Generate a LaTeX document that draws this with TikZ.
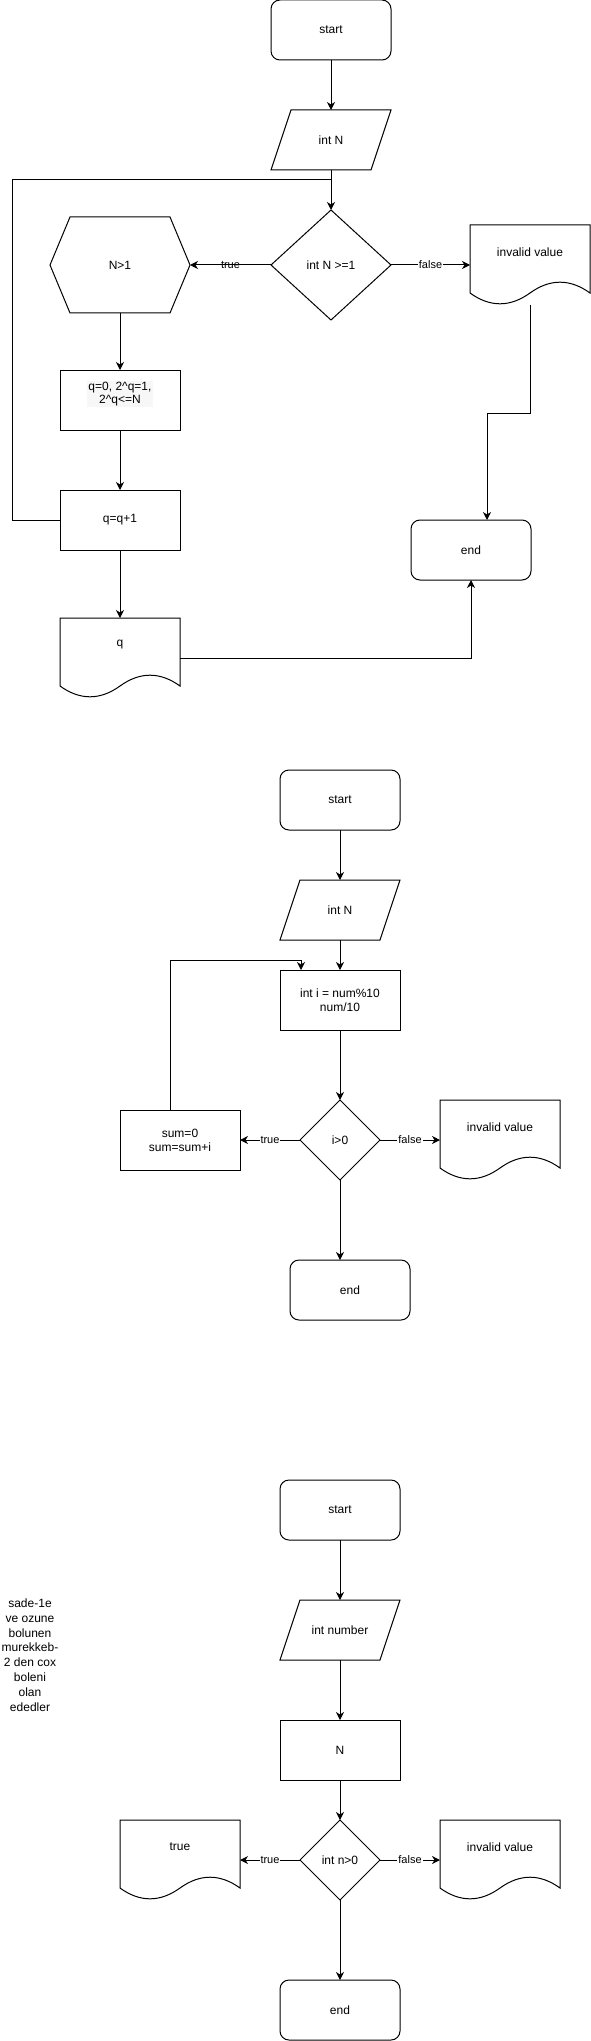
\documentclass[tikz,border=0pt]{standalone}
\usepackage{fontspec}
\setmainfont{Liberation Sans}
\usetikzlibrary{arrows.meta,shapes.geometric,calc}

\newcommand\parashape[1]{\draw ($(#1.north west)+(20,0)$) -- (#1.north east) -- ($(#1.south east)+(-20,0)$) -- (#1.south west) -- cycle;}
\newcommand\docshape[1]{\draw (#1.north west) -- (#1.north east) -- ($(#1.north west)+(120,68)$) .. controls ($(#1.north west)+(100,53.6)$) and ($(#1.north west)+(80,53.6)$) .. ($(#1.north west)+(60,68)$) .. controls ($(#1.north west)+(40,82.4)$) and ($(#1.north west)+(20,82.4)$) .. ($(#1.north west)+(0,68)$) -- cycle;}
\newcommand\hexshape[1]{\draw (#1.west) -- ($(#1.north west)+(20,0)$) -- ($(#1.north east)+(-20,0)$) -- (#1.east) -- ($(#1.south east)+(-20,0)$) -- ($(#1.south west)+(20,0)$) -- cycle;}

\tikzset{
  base/.style={font=\fontsize{12}{14}\selectfont, text=black, align=center, inner sep=0pt, outer sep=0pt},
  term/.style={base, draw, rounded corners=9pt, minimum width=120pt, minimum height=60pt},
  proc/.style={base, draw, minimum width=120pt, minimum height=60pt},
  iobox/.style={base, minimum width=120pt, minimum height=60pt},
  docbox/.style={base, minimum width=120pt, minimum height=80pt},
  dec/.style={base, draw, diamond, minimum width=80pt, minimum height=80pt},
  arr/.style={-{Stealth[length=8pt,width=8pt,inset=2.5pt]}},
  lbl/.style={font=\fontsize{11}{13}\selectfont, text=black, fill=white, inner sep=1pt},
}

\begin{document}
\begin{tikzpicture}[x=1pt,y=-1pt,line width=1pt]
\path[use as bounding box, fill=white] (0,0) rectangle (591,2041);

% ---------------- Diagram 1 ----------------
\node[term] (s1) at (331,30) {start};
\node[iobox] (p1) at (331,140) {int N};
\parashape{p1}
\node[dec, minimum width=120pt, minimum height=110pt] (d1) at (331,265) {int N >=1};
\node[base, minimum width=140pt, minimum height=96pt] (h1) at (120,265) {N>1};
\hexshape{h1}
\node[docbox] (v1) at (530,265) {};
\docshape{v1}
\node[base] (v1t) at ($(v1.north)+(0,27)$) {invalid value};
\node[proc] (a1) at (120,400) {};
\node[base, fill=gray!6, inner sep=1pt, font=\fontsize{12}{13.5}\selectfont] (a1t) at (120,394) {q=0, 2\textasciicircum q=1,\\2\textasciicircum q<=N};
\node[proc] (b1) at (120,520) {q=q+1};
\node[docbox] (q1) at (120,658) {};
\docshape{q1}
\node[base] (q1t) at ($(q1.north)+(0,27)$) {q};
\node[term] (e1) at (471,550) {end};
\coordinate (j1) at (331,180);

\draw[arr] (s1.south) -- (p1.north);
\draw[arr] (p1.south) -- (d1.north);
\draw[arr] (d1.west) -- node[lbl, fill=none]{true} (h1.east);
\draw[arr] (d1.east) -- node[lbl]{false} (v1.west);
\draw[arr] (h1.south) -- (a1.north);
\draw[arr] (a1.south) -- (b1.north);
\draw[arr] (b1.south) -- (q1.north);
\draw (b1.west) -- ++(-48,0) |- (j1);
\draw[arr] (v1.south) -- ++(0,108) -| ($(e1.north west)+(76,0)$);
\draw[arr] (q1.east) -| (e1.south);

% ---------------- Diagram 2 ----------------
\node[term] (s2) at (340,800) {start};
\node[iobox] (p2) at (340,910) {int N};
\parashape{p2}
\node[proc] (c2) at (340,1000) {int i = num\%10\\num/10};
\node[dec] (d2) at (340,1140) {i>0};
\node[proc] (u2) at (180,1140) {sum=0\\sum=sum+i};
\node[docbox] (v2) at (500,1140) {};
\docshape{v2}
\node[base] (v2t) at ($(v2.north)+(0,27)$) {invalid value};
\node[term] (e2) at (350,1290) {end};

\draw[arr] (s2.south) -- (p2.north);
\draw[arr] (p2.south) -- (c2.north);
\draw[arr] (c2.south) -- (d2.north);
\draw[arr] (d2.west) -- node[lbl]{true} (u2.east);
\draw[arr] (d2.east) -- node[lbl]{false} (v2.west);
\draw[arr] (d2.south) -- (d2.south |- e2.north);
\draw[arr] ($(u2.north west)+(50,0)$) |- ($(c2.north west)+(21,-10)$) -- ($(c2.north west)+(21,0)$);

% ---------------- Diagram 3 ----------------
\node[term] (s3) at (340,1510) {start};
\node[iobox] (p3) at (340,1630) {int number};
\parashape{p3}
\node[proc] (n3) at (340,1750) {N};
\node[dec] (d3) at (340,1860) {int n>0};
\node[docbox] (t3) at (180,1860) {};
\docshape{t3}
\node[base] (t3t) at ($(t3.north)+(0,27)$) {true};
\node[docbox] (v3) at (500,1860) {};
\docshape{v3}
\node[base] (v3t) at ($(v3.north)+(0,27)$) {invalid value};
\node[term] (e3) at (340,2010) {end};
\node[base, font=\fontsize{12}{14.8}\selectfont] (note) at (30,1655) {sade-1e\\ve ozune\\bolunen\\murekkeb-\\2 den cox\\boleni\\olan\\ededler};

\draw[arr] (s3.south) -- (p3.north);
\draw[arr] (p3.south) -- (n3.north);
\draw[arr] (n3.south) -- (d3.north);
\draw[arr] (d3.west) -- node[lbl]{true} (t3.east);
\draw[arr] (d3.east) -- node[lbl]{false} (v3.west);
\draw[arr] (d3.south) -- (e3.north);
\end{tikzpicture}
\end{document}
